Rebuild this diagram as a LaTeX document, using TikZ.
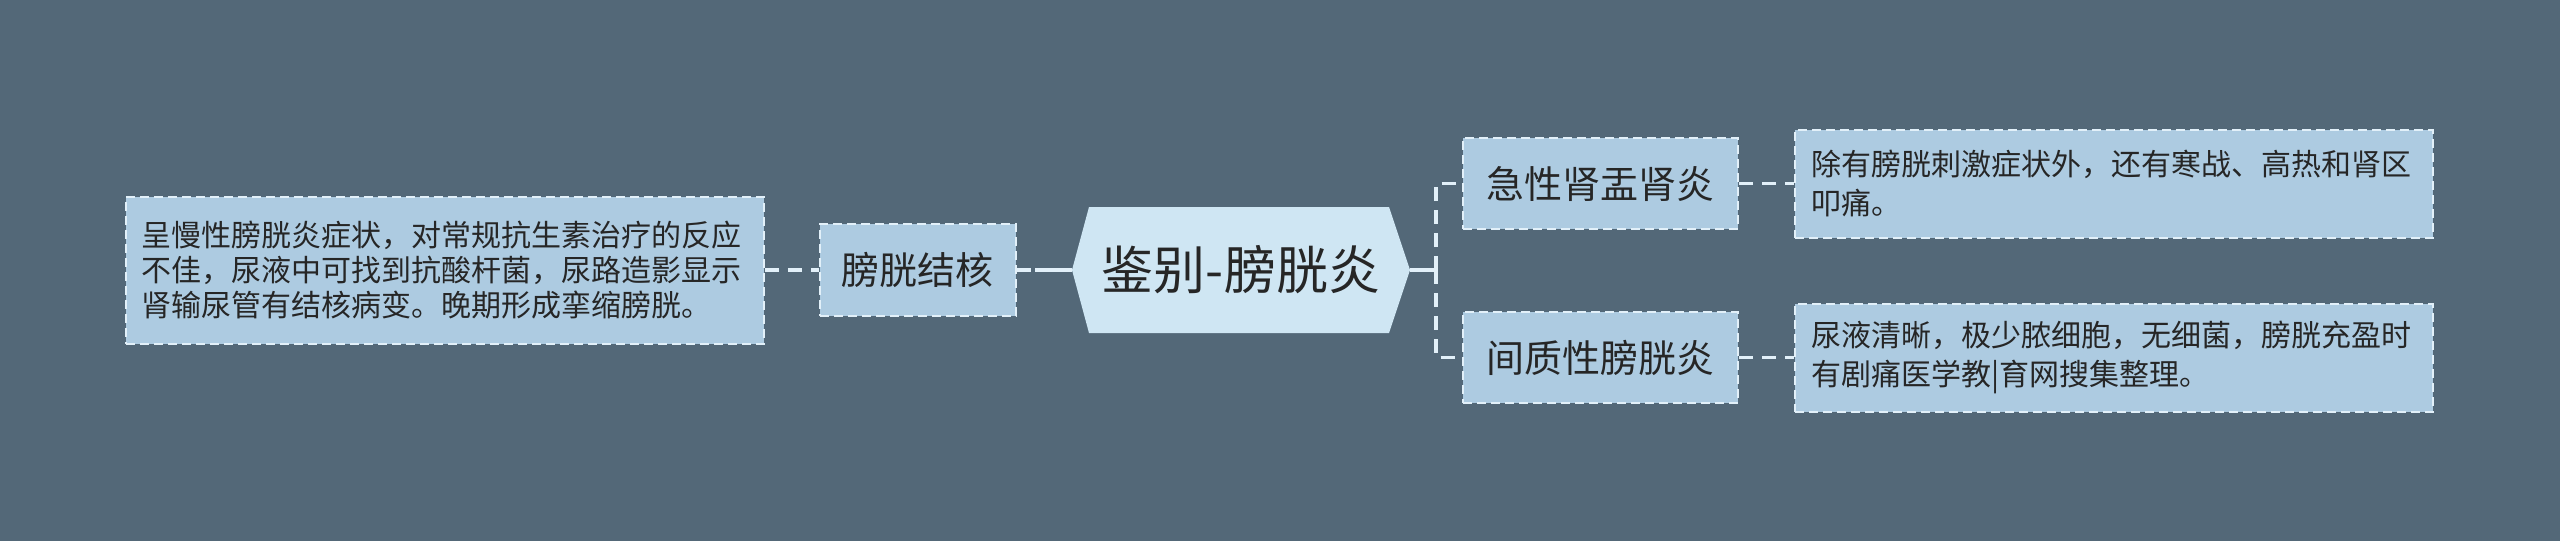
\documentclass[tikz,border=0pt]{standalone}
\usepackage{fontspec}
\newfontfamily\cjk{Noto Sans CJK SC}
\usetikzlibrary{positioning}
\definecolor{bgslate}{HTML}{536878}
\definecolor{leaffill}{HTML}{ADCBE1}
\definecolor{rootfill}{HTML}{CFE6F3}
\definecolor{edgeline}{HTML}{E2F0F9}
\definecolor{inkdark}{HTML}{262626}
\tikzset{
	box/.style={draw=edgeline,line width=2pt,dash pattern=on 9pt off 5pt,fill=leaffill,text=inkdark,inner sep=0pt},
	topic/.style={box,minimum width=275pt,minimum height=91pt,font=\cjk\fontsize{38}{46}\selectfont},
	note/.style={box,minimum width=638pt,minimum height=108pt,align=left,text width=606pt,font=\cjk\fontsize{30}{39}\selectfont},
	link/.style={draw=edgeline,line width=3.5pt,dash pattern=on 14pt off 9pt},
	trunk/.style={draw=edgeline,line width=3.5pt},
}
\begin{document}
\begin{tikzpicture}[x=1pt,y=-1pt]
		\fill[bgslate] (0,0) rectangle (2560,541);
		\node[text=inkdark,inner sep=0pt,minimum width=338pt,minimum height=126pt,font=\cjk\fontsize{52}{60}\selectfont,
			path picture={\fill[rootfill] (path picture bounding box.west)--([xshift=17pt]path picture bounding box.north west)--([xshift=-21pt]path picture bounding box.north east)--(path picture bounding box.east)--([xshift=-21pt]path picture bounding box.south east)--([xshift=17pt]path picture bounding box.south west)--cycle;}]
			(root) at (1241,270) {鉴别-膀胱炎};
		\node[topic,minimum width=196pt,minimum height=92pt,left=55pt of root] (tb) {膀胱结核};
		\node[note,minimum height=147pt,font=\cjk\fontsize{30}{35}\selectfont,left=54pt of tb] (tbnote) {呈慢性膀胱炎症状，对常规抗生素治疗的反应\\不佳，尿液中可找到抗酸杆菌，尿路造影显示\\肾输尿管有结核病变。晚期形成挛缩膀胱。};
		\node[topic] (acute) at (1600.5,183.5) {急性肾盂肾炎};
		\node[topic] (inter) at (1600.5,357.5) {间质性膀胱炎};
		\node[note,right=55pt of acute] (acutenote) {除有膀胱刺激症状外，还有寒战、高热和肾区\\叩痛。};
		\node[note,right=55pt of inter] (internote) {尿液清晰，极少脓细胞，无细菌，膀胱充盈时\\有剧痛医学教|育网搜集整理。};
		\coordinate (lj) at (1035,270);
		\coordinate (rj) at (1436,270);
		\draw[link] (tbnote.east) -- (tb.west);
		\draw[link] (tb.east) -- (lj);
		\draw[trunk] (lj) -- (root.west);
		\draw[trunk] (root.east) -- (rj);
		\draw[link] (rj) |- (acute.west);
		\draw[link] (rj) |- (inter.west);
		\draw[link] (acute.east) -- (acutenote.west);
		\draw[link] (inter.east) -- (internote.west);
	\end{tikzpicture}
\end{document}
